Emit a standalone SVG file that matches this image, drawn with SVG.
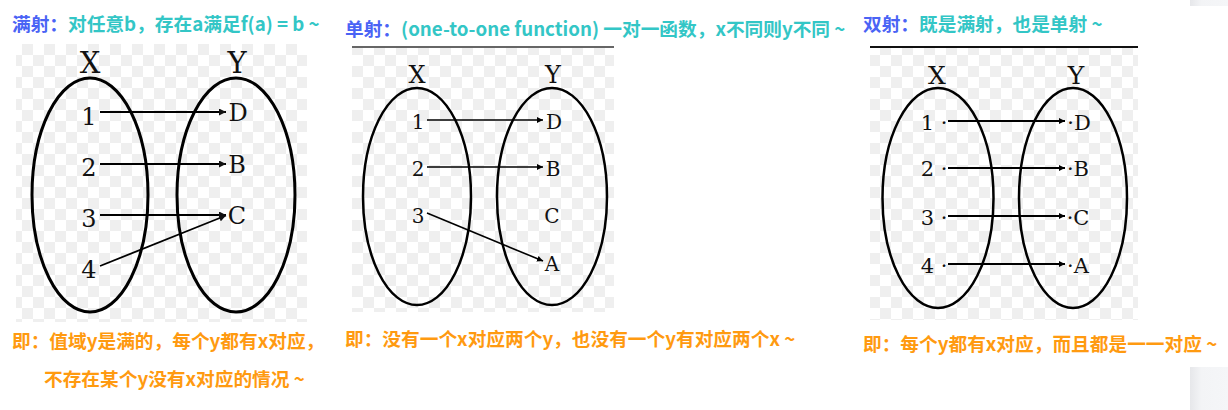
<svg xmlns="http://www.w3.org/2000/svg" width="1228" height="410" viewBox="0 0 1228 410">
<defs>
<pattern id="chk" width="22" height="22" patternUnits="userSpaceOnUse">
<rect width="22" height="22" fill="#ffffff"/>
<rect width="11" height="11" fill="#efefef"/>
<rect x="11" y="11" width="11" height="11" fill="#efefef"/>
</pattern>
<marker id="ah" viewBox="0 0 10 10" refX="10" refY="5" markerWidth="6" markerHeight="6" orient="auto" markerUnits="userSpaceOnUse">
<path d="M0,0 L10,5 L0,10 z" fill="#000"/>
</marker>
<marker id="ah2" viewBox="0 0 10 10" refX="10" refY="5" markerWidth="7" markerHeight="7" orient="auto" markerUnits="userSpaceOnUse">
<path d="M0,0 L10,5 L0,10 z" fill="#111"/>
</marker>
<linearGradient id="sb" x1="0" x2="1" y1="0" y2="0">
<stop offset="0" stop-color="#e6e7ea"/>
<stop offset="0.3" stop-color="#f3f4f6"/>
<stop offset="1" stop-color="#f5f6f8"/>
</linearGradient>
</defs>
<style>
.t{font-family:"Noto Sans CJK SC","Noto Sans",sans-serif;font-weight:bold;font-size:18.7px}
.b{fill:#4a63f5}
.c{fill:#33c6c6}
.o{fill:#ff9a10}
.s{font-family:"DejaVu Serif","Liberation Serif",serif;fill:#111;text-anchor:middle}
.e{fill:none;stroke:#000}
.ln{stroke:#000;fill:none}
</style>
<rect width="1228" height="410" fill="#fff"/>
<rect x="1190" y="0" width="38" height="6" fill="url(#sb)"/>
<rect x="1190" y="367" width="38" height="43" fill="url(#sb)"/>

<g id="title1"><text class="t" x="12" y="31"><tspan class="b">满射：</tspan><tspan class="c">对任意b，存在a满足f(a) = b ~</tspan></text></g>
<g id="title2"><text class="t" x="345" y="36"><tspan class="b">单射：</tspan><tspan class="c">(one-to-one function) 一对一函数，x不同则y不同 ~</tspan></text></g>
<g id="title3"><text class="t" x="863" y="31"><tspan class="b">双射：</tspan><tspan class="c">既是满射，也是单射 ~</tspan></text></g>

<g id="note1"><text class="t o" x="12" y="348">即：值域y是满的，每个y都有x对应，</text><text class="t o" x="44" y="386">不存在某个y没有x对应的情况 ~</text></g>
<g id="note2"><text class="t o" x="345" y="346">即：没有一个x对应两个y，也没有一个y有对应两个x ~</text></g>
<g id="note3"><text class="t o" x="863" y="351">即：每个y都有x对应，而且都是一一对应 ~</text></g>

<g id="panel1">
<rect x="16" y="44" width="291" height="278" fill="url(#chk)"/>
<ellipse class="e" cx="90" cy="195" rx="58" ry="117" stroke-width="3"/>
<ellipse class="e" cx="236" cy="195" rx="59" ry="117" stroke-width="3"/>
<text class="s" x="90" y="73" font-size="29">X</text>
<text class="s" x="237" y="73" font-size="29">Y</text>
<text class="s" x="89" y="125" font-size="24">1</text>
<text class="s" x="89" y="176" font-size="24">2</text>
<text class="s" x="89" y="227" font-size="24">3</text>
<text class="s" x="89" y="278" font-size="24">4</text>
<text class="s" x="238" y="121" font-size="24">D</text>
<text class="s" x="237" y="173" font-size="24">B</text>
<text class="s" x="237" y="224" font-size="24">C</text>
</g>
<g id="panel2">
<rect x="352" y="48" width="262" height="264" fill="url(#chk)"/>
<line x1="352" y1="47" x2="614" y2="47" stroke="#333" stroke-width="1.5"/>
<ellipse class="e" cx="417" cy="196.5" rx="54" ry="108.5" stroke-width="2.5"/>
<ellipse class="e" cx="552" cy="196.5" rx="55" ry="108.5" stroke-width="2.5"/>
<text class="s" x="417" y="83" font-size="24">X</text>
<text class="s" x="553" y="83" font-size="24">Y</text>
<text class="s" x="418" y="129" font-size="20">1</text>
<text class="s" x="418" y="176" font-size="20">2</text>
<text class="s" x="418" y="223" font-size="20">3</text>
<text class="s" x="554" y="129" font-size="20">D</text>
<text class="s" x="553" y="176" font-size="20">B</text>
<text class="s" x="552" y="223" font-size="20">C</text>
<text class="s" x="552" y="271" font-size="20">A</text>
</g>
<g id="panel3">
<rect x="870" y="48" width="268" height="272" fill="url(#chk)"/>
<line x1="870" y1="47" x2="1138" y2="47" stroke="#111" stroke-width="2.2"/>
<ellipse class="e" cx="938" cy="198" rx="55.5" ry="110" stroke-width="2.5"/>
<ellipse class="e" cx="1073" cy="198" rx="54" ry="110" stroke-width="2.5"/>
<text class="s" x="937" y="84" font-size="25">X</text>
<text class="s" x="1076" y="84" font-size="25">Y</text>
<text class="s" x="934" y="130" font-size="21">1 ·</text>
<text class="s" x="934" y="176" font-size="21">2 ·</text>
<text class="s" x="934" y="225" font-size="21">3 ·</text>
<text class="s" x="934" y="273" font-size="21">4 ·</text>
<text class="s" x="1079" y="130" font-size="21">·D</text>
<text class="s" x="1078" y="176" font-size="21">·B</text>
<text class="s" x="1078" y="225" font-size="21">·C</text>
<text class="s" x="1078" y="273" font-size="21">·A</text>
</g>

<g id="connectors">
<line class="ln" x1="100" y1="112" x2="226" y2="112" stroke-width="1.8" marker-end="url(#ah2)"/>
<line class="ln" x1="100" y1="164" x2="226" y2="164" stroke-width="1.8" marker-end="url(#ah2)"/>
<line class="ln" x1="100" y1="215" x2="226" y2="215" stroke-width="1.8" marker-end="url(#ah2)"/>
<line class="ln" x1="100" y1="266" x2="226" y2="215.5" stroke-width="1.8" marker-end="url(#ah2)"/>
<line class="ln" x1="427" y1="120" x2="543" y2="120" stroke-width="1.6" marker-end="url(#ah)"/>
<line class="ln" x1="427" y1="167" x2="543" y2="167" stroke-width="1.6" marker-end="url(#ah)"/>
<line class="ln" x1="427" y1="213" x2="543" y2="261" stroke-width="1.6" marker-end="url(#ah)"/>
<line class="ln" x1="948" y1="121" x2="1065" y2="121" stroke-width="1.8" marker-end="url(#ah)"/>
<line class="ln" x1="948" y1="168" x2="1065" y2="168" stroke-width="1.8" marker-end="url(#ah)"/>
<line class="ln" x1="948" y1="216" x2="1065" y2="216" stroke-width="1.8" marker-end="url(#ah)"/>
<line class="ln" x1="948" y1="264" x2="1065" y2="264" stroke-width="1.8" marker-end="url(#ah)"/>
</g>
</svg>
